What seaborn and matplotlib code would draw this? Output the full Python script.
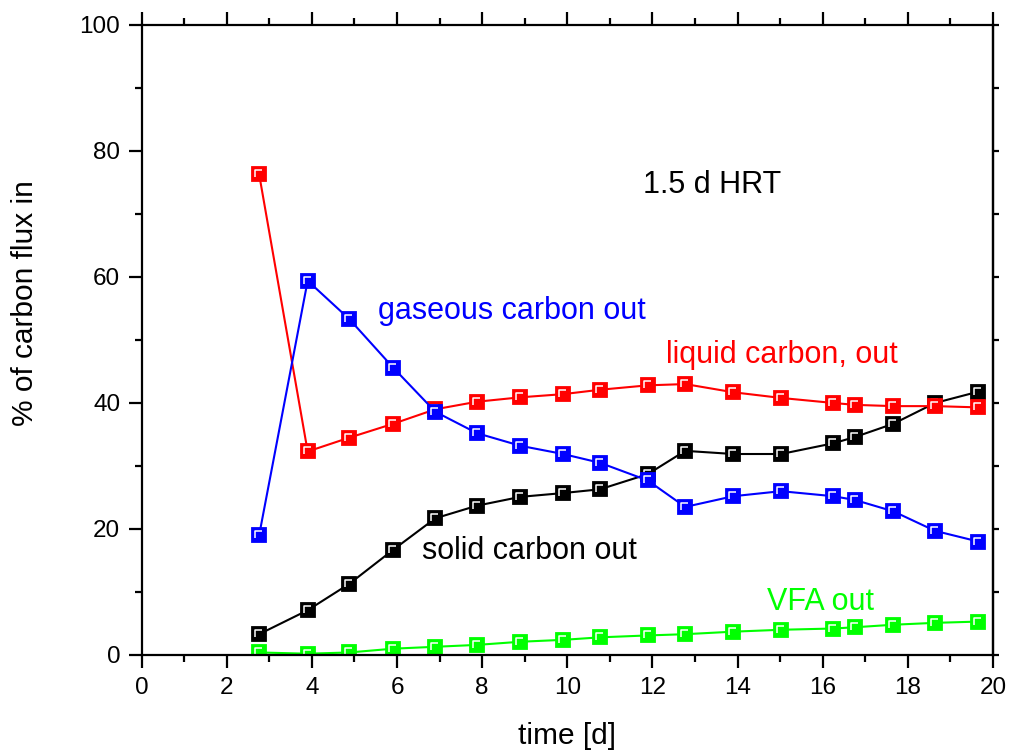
import numpy as np
import pandas as pd
import seaborn as sns
import matplotlib
matplotlib.use("Agg")
import matplotlib.pyplot as plt
from matplotlib.path import Path
from matplotlib.markers import MarkerStyle
from matplotlib.ticker import MultipleLocator

# Sampling days
time_d = [2.76, 3.90, 4.88, 5.91, 6.90, 7.88, 8.90, 9.90, 10.77, 11.89,
          12.77, 13.90, 15.02, 16.25, 16.76, 17.66, 18.64, 19.66]

# Share of the incoming carbon flux leaving by each route (%)
solid_out = [3.3, 7.1, 11.3, 16.7, 21.7, 23.7, 25.1, 25.7, 26.3, 28.7,
             32.4, 31.9, 31.9, 33.6, 34.6, 36.7, 40.0, 41.8]
vfa_out = [0.4, 0.2, 0.4, 1.0, 1.3, 1.6, 2.1, 2.4, 2.8, 3.1,
           3.3, 3.7, 4.0, 4.2, 4.4, 4.8, 5.1, 5.3]
liquid_out = [76.3, 32.3, 34.5, 36.7, 39.0, 40.2, 40.9, 41.4, 42.1, 42.8,
              43.0, 41.7, 40.8, 40.0, 39.7, 39.5, 39.5, 39.3]
gas_out = [19.0, 59.4, 53.3, 45.6, 38.6, 35.2, 33.2, 31.9, 30.5, 27.7,
           23.5, 25.2, 26.0, 25.2, 24.6, 22.8, 19.7, 18.0]

series_names = ["solid carbon out", "VFA out", "liquid carbon, out", "gaseous carbon out"]
series_values = [solid_out, vfa_out, liquid_out, gas_out]
series_colors = ["#000000", "#00ff00", "#ff0000", "#0000ff"]

df = pd.DataFrame({
    "time": np.tile(time_d, len(series_names)),
    "pct": np.concatenate(series_values),
    "stream": np.repeat(series_names, len(time_d)),
})

sns.set_style("ticks")
plt.rcParams["font.family"] = ["Liberation Sans", "DejaVu Sans"]
plt.rcParams.update({
    "text.color": "black",
    "axes.labelcolor": "black",
    "xtick.color": "black",
    "ytick.color": "black",
    "axes.edgecolor": "black",
})

fig = plt.figure(figsize=(10.09, 7.5), dpi=100)
ax = fig.add_axes([0.1404, 0.1267, 0.8437, 0.84])

# white corner highlight drawn on each square marker
corner = Path([(-0.3, -0.18), (-0.3, 0.3), (0.22, 0.3)],
              [Path.MOVETO, Path.LINETO, Path.LINETO])
corner_marker = MarkerStyle(corner)

ms = 10.0
for name, color in zip(series_names, series_colors):
    sub = df[df["stream"] == name]
    sns.lineplot(data=sub, x="time", y="pct", ax=ax, color=color,
                 marker="s", markersize=ms, markeredgecolor=color,
                 markeredgewidth=1.3, linewidth=1.5, sort=False,
                 errorbar=None, legend=False)
    ax.plot(sub["time"], sub["pct"], ls="none", marker=corner_marker,
            ms=ms * 0.6, mec="white", mfc="none", mew=1.1)

ax.set_xlim(0, 20)
ax.set_ylim(0, 100)
ax.xaxis.set_major_locator(MultipleLocator(2))
ax.xaxis.set_minor_locator(MultipleLocator(1))
ax.yaxis.set_major_locator(MultipleLocator(20))
ax.yaxis.set_minor_locator(MultipleLocator(10))

for sp in ax.spines.values():
    sp.set_visible(True)
    sp.set_linewidth(1.6)
    sp.set_color("black")

ax.tick_params(which="major", direction="out", length=9.5, width=1.6,
               labelsize=17.5, pad=6, top=True, right=False,
               color="black", labelcolor="black")
ax.tick_params(which="minor", direction="out", length=5, width=1.6,
               top=True, right=False, color="black")

# short ticks on the right-hand frame
sec = ax.secondary_yaxis("right")
sec.yaxis.set_major_locator(MultipleLocator(20))
sec.yaxis.set_minor_locator(MultipleLocator(10))
sec.tick_params(which="both", direction="out", length=4.5, width=1.6,
                labelright=False, color="black")
sec.spines["right"].set_linewidth(1.6)
sec.spines["right"].set_color("black")

ax.set_xlabel("time [d]", fontsize=21.5, color="black")
ax.set_ylabel("% of carbon flux in", fontsize=21.5, color="black")
ax.xaxis.set_label_coords(0.5, -0.106)
ax.xaxis.label.set_va("top")
ax.yaxis.set_label_coords(-0.1205, 0.559)

text_kw = dict(fontsize=22, ha="left", va="baseline")
ax.text(11.77, 73.3, "1.5 d HRT", color="black", **text_kw)
ax.text(5.55, 53.3, "gaseous carbon out", color="#0000ff", **text_kw)
ax.text(12.31, 46.3, "liquid carbon, out", color="#ff0000", **text_kw)
ax.text(6.58, 15.2, "solid carbon out", color="black", **text_kw)
ax.text(14.70, 7.1, "VFA out", color="#00ff00", **text_kw)

fig.savefig("out.png", dpi=100)
